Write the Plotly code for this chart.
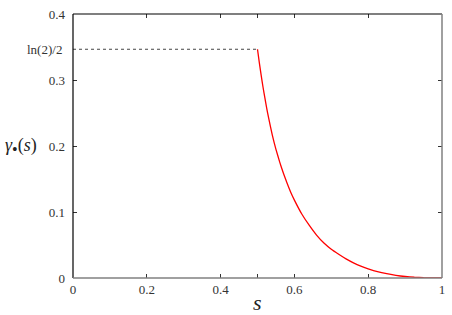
import math
import plotly.graph_objects as go

# data
s_vals = [0.500, 0.505, 0.510, 0.515, 0.520, 0.525, 0.530, 0.540, 0.550, 0.560,
          0.570, 0.580, 0.590, 0.600, 0.620, 0.640, 0.660, 0.680, 0.700, 0.720,
          0.740, 0.760, 0.780, 0.800, 0.825, 0.850, 0.875, 0.900, 0.925, 0.950,
          0.975, 1.000]
gamma_vals = [0.3466, 0.326, 0.307, 0.289, 0.273, 0.257, 0.243, 0.217, 0.195, 0.176,
              0.159, 0.144, 0.130, 0.118, 0.097, 0.080, 0.065, 0.053, 0.0435, 0.036,
              0.029, 0.023, 0.018, 0.014, 0.0097, 0.0065, 0.0041, 0.0023, 0.0011, 0.0004,
              0.0001, 0.0]
plateau_s = [0.0, 0.5]
plateau_level = math.log(2) / 2
plateau_vals = [plateau_level, plateau_level]

x_tickvals = [0, 0.2, 0.4, 0.6, 0.8, 1]
x_ticktext = ["0", "0.2", "0.4", "0.6", "0.8", "1"]
x_extra_tick = [0.5]
y_tickvals = [0, 0.1, 0.2, 0.3, 0.4]
y_ticktext = ["0", "0.1", "0.2", "0.3", "0.4"]

FONT = "Liberation Serif, DejaVu Serif, serif"
TICK_COLOR = "#333333"

fig = go.Figure()
fig.add_trace(go.Scatter(x=plateau_s, y=plateau_vals, mode="lines",
                         line=dict(color="#444444", width=1, dash="dot"),
                         showlegend=False))
fig.add_trace(go.Scatter(x=s_vals, y=gamma_vals, mode="lines",
                         line=dict(color="#ff0000", width=1.3, shape="spline", smoothing=0.5),
                         showlegend=False))

fig.update_layout(
    width=452, height=315,
    margin=dict(l=73, r=7, t=12, b=37),
    plot_bgcolor="white", paper_bgcolor="white",
    font=dict(family=FONT, size=13, color=TICK_COLOR),
    showlegend=False,
    xaxis=dict(range=[0, 1], tickmode="array", tickvals=x_tickvals, ticktext=x_ticktext,
               ticks="inside", ticklen=4, tickcolor=TICK_COLOR, tickwidth=1,
               minor=dict(tickmode="array", tickvals=x_extra_tick, ticks="inside",
                          ticklen=4, tickcolor=TICK_COLOR, tickwidth=1),
               mirror="ticks", showgrid=False, zeroline=False, showline=False,
               ticklabelstandoff=2,
               tickfont=dict(family=FONT, size=13, color=TICK_COLOR)),
    yaxis=dict(range=[0, 0.4], tickmode="array", tickvals=y_tickvals, ticktext=y_ticktext,
               ticks="inside", ticklen=4, tickcolor=TICK_COLOR, tickwidth=1,
               mirror="ticks", showgrid=False, zeroline=False, showline=False,
               ticklabelstandoff=7,
               tickfont=dict(family=FONT, size=13, color=TICK_COLOR)),
)

# frame: left/top black, bottom/right grey
fig.add_shape(type="line", xref="paper", yref="paper", x0=0, x1=0, y0=0, y1=1,
              line=dict(color="black", width=1.2))
fig.add_shape(type="line", xref="paper", yref="paper", x0=0, x1=1, y0=1, y1=1,
              line=dict(color="black", width=1.2))
fig.add_shape(type="line", xref="paper", yref="paper", x0=0, x1=1, y0=0, y1=0,
              line=dict(color="#808080", width=1.5))
fig.add_shape(type="line", xref="paper", yref="paper", x0=1, x1=1, y0=0, y1=1,
              line=dict(color="#808080", width=1.5))

# ln(2)/2 label
fig.add_annotation(x=0, xref="paper", y=plateau_level, yref="y", text="ln(2)/2",
                   showarrow=False, xanchor="right", xshift=-9,
                   font=dict(family=FONT, size=13, color=TICK_COLOR))
# axis titles
fig.add_annotation(x=-0.14, xref="paper", y=0.2, yref="y",
                   text="<i>γ</i><sub><span style='font-size:16px'>•</span></sub>(<i>s</i>)",
                   showarrow=False, xanchor="center", yanchor="middle",
                   font=dict(family=FONT, size=18, color="#222222"))
fig.add_annotation(x=0.5, xref="x", y=0, yref="paper", text="<i>s</i>",
                   showarrow=False, yanchor="top", yshift=-10,
                   font=dict(family=FONT, size=22, color="#222222"))

fig.write_html("out.html", config={"displayModeBar": False},
               post_script="document.body.style.margin='0';document.body.style.overflow='hidden';")
